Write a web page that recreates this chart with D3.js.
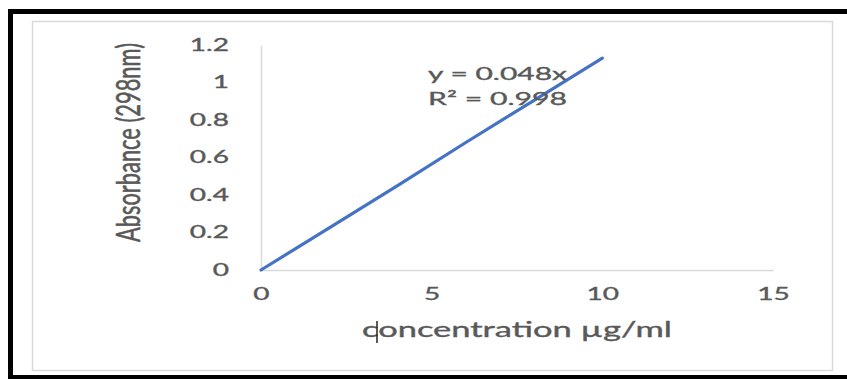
<!DOCTYPE html>
<html><head><meta charset="utf-8">
<script src="https://cdn.jsdelivr.net/npm/d3@7"></script>
<style>html,body{margin:0;padding:0;background:#fff;}svg{display:block;}</style>
</head><body>
<svg id="c" width="847" height="379"></svg>
<script>
const concentration = [0, 2, 4, 6, 8, 10];
const absorbance = [0, 0.225, 0.45, 0.68, 0.905, 1.13];
const xTicks = [0, 5, 10, 15];
const yTicks = [0, 0.2, 0.4, 0.6, 0.8, 1, 1.2];
const equationLines = ["y = 0.048x", "R² = 0.998"];
const xTitle = "concentration µg/ml";
const yTitle = "Absorbance (298nm)";

const svg = d3.select("#c");
const font = "Lato, 'Liberation Sans', sans-serif";
const grey = "#595959";
const sx = 1.65; // horizontal stretch of the original picture

// outer black frame
svg.append("rect").attr("x", 10.5).attr("y", 11.5).attr("width", 850).attr("height", 366)
  .attr("fill", "#fff").attr("stroke", "#000").attr("stroke-width", 5);
// inner chart area border
svg.append("rect").attr("x", 32.5).attr("y", 21.5).attr("width", 800).attr("height", 349)
  .attr("fill", "#fff").attr("stroke", "#D9D9D9").attr("stroke-width", 1.5);

const x = d3.scaleLinear().domain([0, 15]).range([261, 773]);
const y = d3.scaleLinear().domain([0, 1.2]).range([270, 45]);

function weight(sel) {
  sel.attr("stroke", grey).attr("stroke-width", 0.35);
}

// axes
const xAxis = svg.append("g").attr("transform", `translate(0,${y(0)})`)
  .call(d3.axisBottom(x).tickValues(xTicks).tickSize(0).tickPadding(18).tickFormat(d3.format("d")));
xAxis.select(".domain").attr("stroke", "#D9D9D9").attr("stroke-width", 1.5);
xAxis.selectAll("text").attr("fill", grey).style("font-family", font).style("font-size", "17px")
  .attr("transform", `scale(${sx},1)`).call(weight);

const yAxis = svg.append("g").attr("transform", `translate(${x(0)},0)`)
  .call(d3.axisLeft(y).tickValues(yTicks).tickSize(0).tickFormat(d => d === 0 || d === 1 ? String(d) : d3.format(".1f")(d)));
yAxis.select(".domain").attr("stroke", "#D9D9D9").attr("stroke-width", 1.5);
yAxis.selectAll("text").attr("fill", grey).style("font-family", font).style("font-size", "17px")
  .attr("x", -32 / sx).attr("transform", `scale(${sx},1)`).call(weight);

// data line
const pts = concentration.map((c, i) => [c, absorbance[i]]);
svg.append("path").datum(pts)
  .attr("d", d3.line().x(d => x(d[0])).y(d => y(d[1])))
  .attr("fill", "none").attr("stroke", "#4472C4").attr("stroke-width", 3.2).attr("stroke-linecap", "round");

// equation
svg.append("g").selectAll("text").data(equationLines).join("text")
  .attr("x", 428).attr("y", (d, i) => 80 + i * 25)
  .attr("textLength", 139).attr("lengthAdjust", "spacingAndGlyphs")
  .attr("fill", grey).style("font-family", font).style("font-size", "18px").text(d => d).call(weight);

// axis titles
svg.append("text").attr("x", 362).attr("y", 337)
  .attr("textLength", 310).attr("lengthAdjust", "spacingAndGlyphs")
  .attr("fill", grey).style("font-family", font).style("font-size", "21px").text(xTitle).call(weight);
svg.append("text").attr("transform", `translate(140,242) scale(${sx},1) rotate(-90)`)
  .attr("textLength", 199).attr("lengthAdjust", "spacingAndGlyphs")
  .attr("fill", grey).style("font-family", font).style("font-size", "20px").text(yTitle).call(weight);

// text cursor artifact
svg.append("line").attr("x1", 377).attr("x2", 377).attr("y1", 321).attr("y2", 343)
  .attr("stroke", "#222").attr("stroke-width", 1.5);
</script>
</body></html>
